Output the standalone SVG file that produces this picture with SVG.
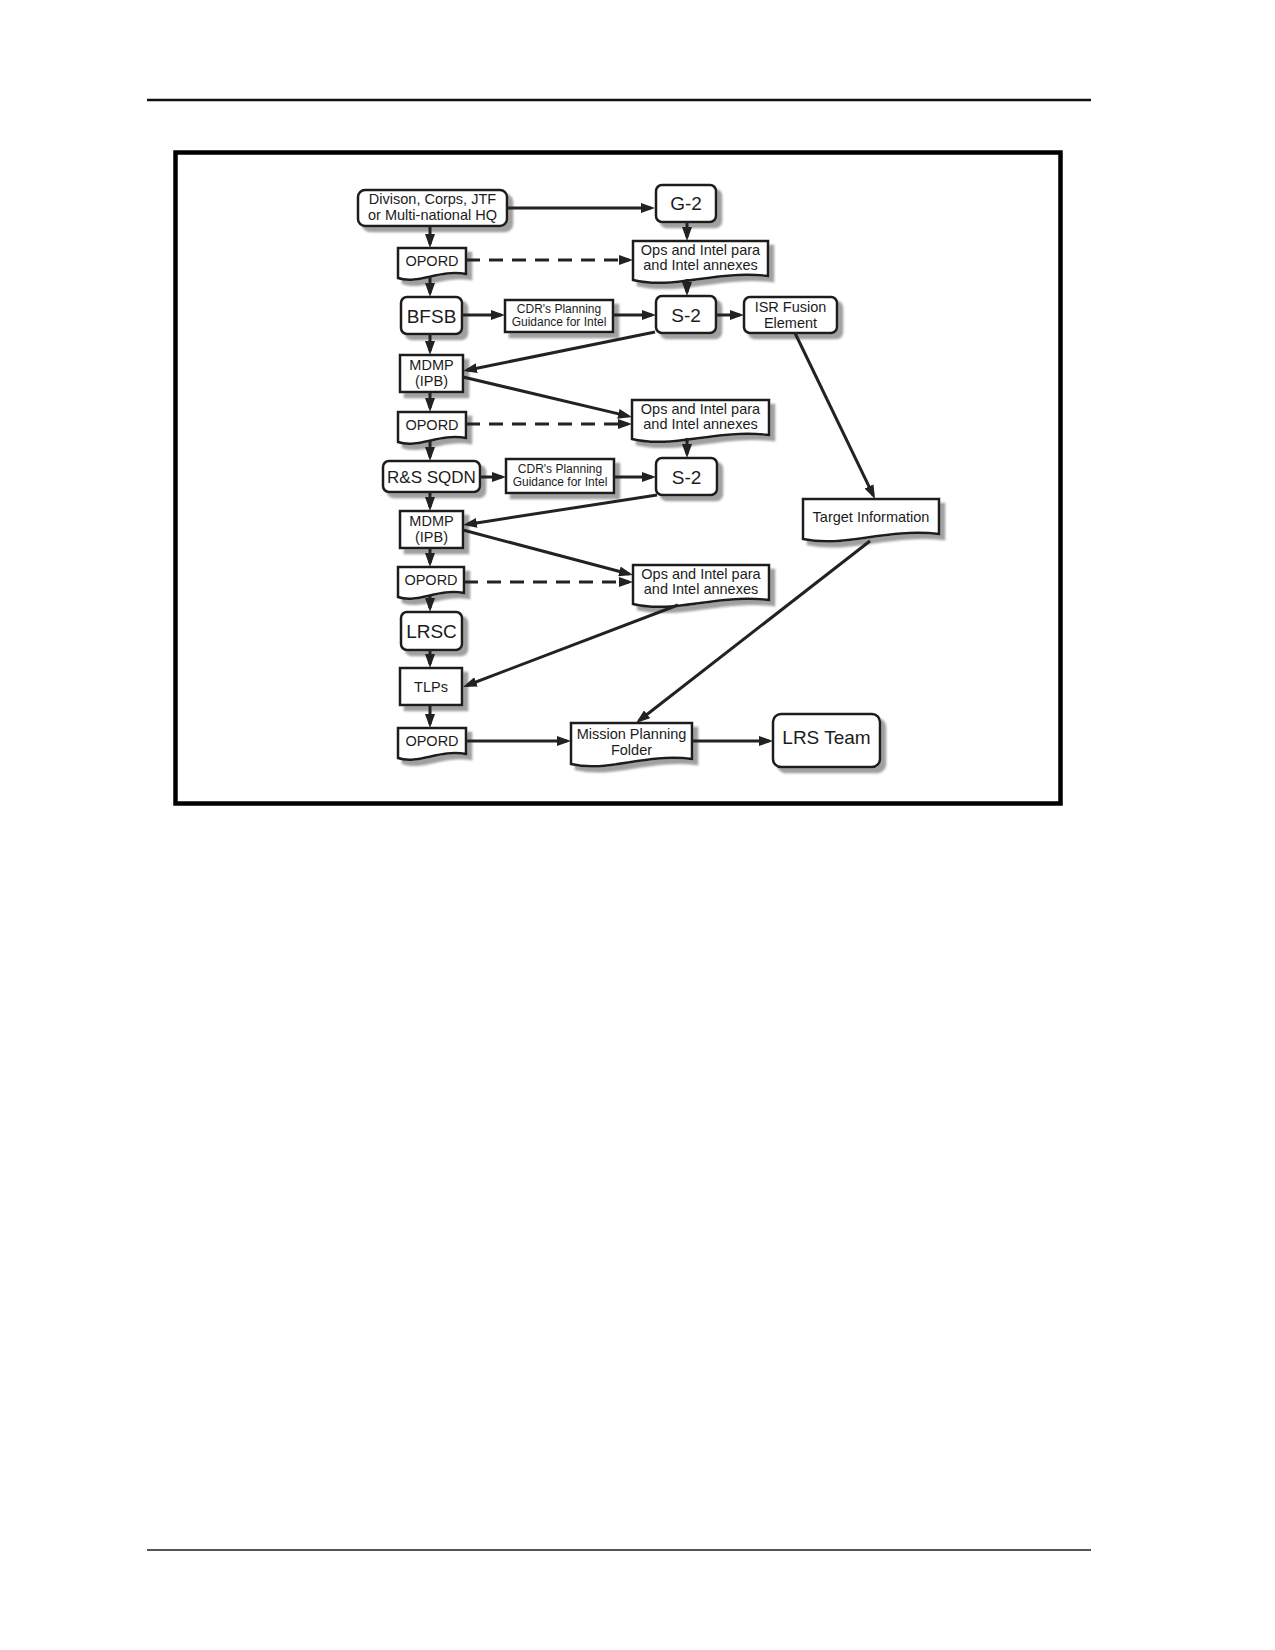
<svg xmlns="http://www.w3.org/2000/svg" width="1275" height="1650" viewBox="0 0 1275 1650">
<defs>
<style>
.n{fill:#fff;stroke:#1c1c1c;stroke-width:2.5;filter:url(#sh)}
.t{font-family:"Liberation Sans",Arial,sans-serif;font-size:14.5px;fill:#1c1c1c;text-anchor:middle}
.s{font-size:12px}
.b{font-size:19px}
.m{font-size:17px}
.c{fill:none;stroke:#222;stroke-width:3;marker-end:url(#ah)}
.d{stroke-dasharray:14 9}
</style>
<filter id="sh" x="-20%" y="-20%" width="150%" height="160%">
<feDropShadow dx="5" dy="5" stdDeviation="0.8" flood-color="#8f8f8f" flood-opacity="0.85"/>
</filter>
<marker id="ah" markerUnits="userSpaceOnUse" markerWidth="14" markerHeight="10" refX="10" refY="5" orient="auto">
<path d="M0,0 L14,5 L0,10 Z" fill="#222"/>
</marker>
</defs>
<rect width="1275" height="1650" fill="#fff"/>
<line x1="147" y1="100" x2="1091" y2="100" stroke="#111" stroke-width="2.5"/>
<line x1="147" y1="1550" x2="1091" y2="1550" stroke="#555" stroke-width="2"/>
<rect x="175.5" y="152.5" width="885" height="651" fill="none" stroke="#000" stroke-width="4.5"/>

<g id="nodes">
<g id="hq"><rect class="n" x="358" y="190" width="149" height="36" rx="7"/><text class="t" x="432.5" y="204">Divison, Corps, JTF</text><text class="t" x="432.5" y="220">or Multi-national HQ</text></g>
<g id="g2"><rect class="n" x="656" y="185" width="60" height="37" rx="6"/><text class="t b" x="686" y="210">G-2</text></g>
<g id="opord1"><path class="n" d="M398,248 H466 V274 C438.8,269 418.4,285 398,278 Z"/><text class="t" x="432" y="266">OPORD</text></g>
<g id="ops1"><path class="n" d="M633,241 H768 V276 C714,270 673.5,290 633,280 Z"/><text class="t" x="700.5" y="255">Ops and Intel para</text><text class="t" x="700.5" y="270">and Intel annexes</text></g>
<g id="bfsb"><rect class="n" x="401" y="297" width="61" height="37" rx="6"/><text class="t b" x="431.5" y="323">BFSB</text></g>
<g id="cdr1"><rect class="n" x="505" y="300" width="108" height="32"/><text class="t s" x="559" y="313">CDR's Planning</text><text class="t s" x="559" y="326">Guidance for Intel</text></g>
<g id="s2a"><rect class="n" x="656" y="296" width="60" height="37" rx="6"/><text class="t b" x="686" y="322">S-2</text></g>
<g id="isr"><rect class="n" x="744" y="297" width="93" height="36" rx="6"/><text class="t" x="790.5" y="312">ISR Fusion</text><text class="t" x="790.5" y="328">Element</text></g>
<g id="mdmp1"><rect class="n" x="400" y="355" width="63" height="37"/><text class="t" x="431.5" y="370">MDMP</text><text class="t" x="431.5" y="386">(IPB)</text></g>
<g id="opord2"><path class="n" d="M398,412 H466 V438 C438.8,433 418.4,449 398,442 Z"/><text class="t" x="432" y="430">OPORD</text></g>
<g id="ops2"><path class="n" d="M632,400 H769 V435 C714.2,429 673.1,449 632,439 Z"/><text class="t" x="700.5" y="414">Ops and Intel para</text><text class="t" x="700.5" y="429">and Intel annexes</text></g>
<g id="rs"><rect class="n" x="383" y="461" width="97" height="31" rx="6"/><text class="t m" x="431.5" y="483">R&amp;S SQDN</text></g>
<g id="cdr2"><rect class="n" x="506" y="459" width="108" height="34"/><text class="t s" x="560" y="473">CDR's Planning</text><text class="t s" x="560" y="486">Guidance for Intel</text></g>
<g id="s2b"><rect class="n" x="656" y="458" width="61" height="37" rx="6"/><text class="t b" x="686.5" y="484">S-2</text></g>
<g id="target"><path class="n" d="M803,499 H939 V534 C884.6,528 843.8,548 803,539 Z"/><text class="t" x="871" y="522">Target Information</text></g>
<g id="mdmp2"><rect class="n" x="400" y="511" width="63" height="37"/><text class="t" x="431.5" y="526">MDMP</text><text class="t" x="431.5" y="542">(IPB)</text></g>
<g id="opord3"><path class="n" d="M398,567 H464 V593 C437.6,588 417.8,604 398,597 Z"/><text class="t" x="431" y="585">OPORD</text></g>
<g id="ops3"><path class="n" d="M633,565 H769 V600 C714.6,594 673.8,614 633,604 Z"/><text class="t" x="701" y="579">Ops and Intel para</text><text class="t" x="701" y="594">and Intel annexes</text></g>
<g id="lrsc"><rect class="n" x="401" y="612" width="61" height="38" rx="6"/><text class="t b" x="431.5" y="638">LRSC</text></g>
<g id="tlps"><rect class="n" x="400" y="668" width="62" height="37"/><text class="t" x="431" y="692">TLPs</text></g>
<g id="opord4"><path class="n" d="M398,728 H466 V754 C438.8,749 418.4,765 398,758 Z"/><text class="t" x="432" y="746">OPORD</text></g>
<g id="mpf"><path class="n" d="M571,723 H692 V759 C643.6,753 607.3,773 571,764 Z"/><text class="t" x="631.5" y="739">Mission Planning</text><text class="t" x="631.5" y="755">Folder</text></g>
<g id="lrsteam"><rect class="n" x="773" y="714" width="107" height="53" rx="8"/><text class="t b" x="826.5" y="744">LRS Team</text></g>
</g>

<g id="connectors">
<path class="c" d="M507,208 H651"/>
<path class="c" d="M687,222 V237"/>
<path class="c" d="M687,279 V292"/>
<path class="c" d="M430,226 V244"/>
<path class="c d" d="M466,260 H629"/>
<path class="c" d="M430,277 V293"/>
<path class="c" d="M462,315 H501"/>
<path class="c" d="M613,315 H652"/>
<path class="c" d="M716,315 H740"/>
<path class="c" d="M430,334 V351"/>
<path class="c" d="M655,332 L467,370.2"/>
<path class="c" d="M463,377 L628.1,416.1"/>
<path class="c" d="M430,392 V408"/>
<path class="c d" d="M466,424 H628"/>
<path class="c" d="M795,333 L873.3,495.4"/>
<path class="c" d="M687,438 V454"/>
<path class="c" d="M430,441 V457"/>
<path class="c" d="M480,477 H502"/>
<path class="c" d="M614,477 H652"/>
<path class="c" d="M657,495 L467,524.4"/>
<path class="c" d="M430,492 V507"/>
<path class="c" d="M463,530 L629.1,574"/>
<path class="c" d="M430,548 V563"/>
<path class="c d" d="M464,582 H629"/>
<path class="c" d="M430,596 V608"/>
<path class="c" d="M678,605 L466.7,685.5"/>
<path class="c" d="M870,541 L639.2,720.5"/>
<path class="c" d="M430,650 V664"/>
<path class="c" d="M430,705 V724"/>
<path class="c" d="M466,741 H567"/>
<path class="c" d="M692,741 H769"/>
</g>
</svg>
